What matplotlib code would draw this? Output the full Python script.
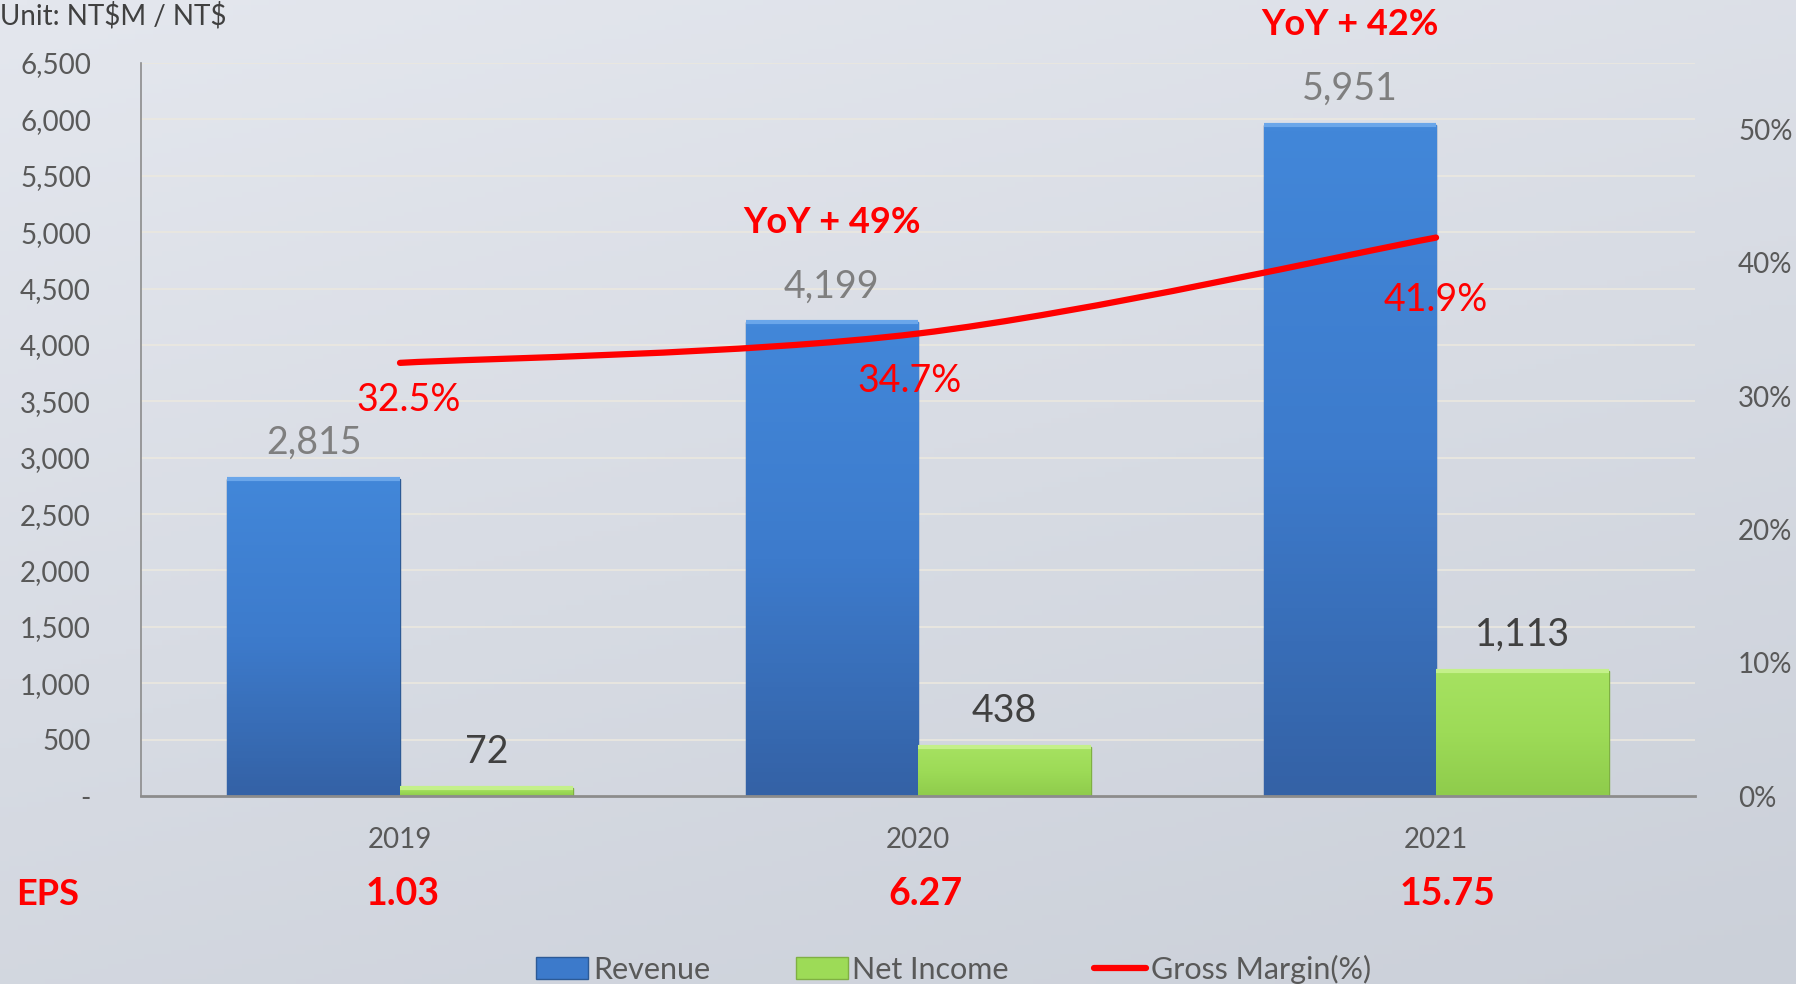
import numpy as np
import matplotlib.pyplot as plt
from matplotlib.path import Path
from matplotlib.patches import PathPatch, Patch
from matplotlib.lines import Line2D
from matplotlib.ticker import FuncFormatter
from matplotlib.colors import LinearSegmentedColormap
from matplotlib.transforms import blended_transform_factory

years = ['2019', '2020', '2021']
revenue = [2815, 4199, 5951]
net_income = [72, 438, 1113]
gross_margin = [0.325, 0.347, 0.419]
yoy_labels = ['', 'YoY + 49%', 'YoY + 42%']
eps = ['1.03', '6.27', '15.75']

plt.rcParams['font.family'] = ['Lato', 'DejaVu Sans']

fig = plt.figure(figsize=(17.96, 9.84), dpi=100)

# soft gradient background
bg = fig.add_axes([0, 0, 1, 1], zorder=-10)
yy, xx = np.mgrid[0:1:200j, 0:1:200j]
shade = 0.55 * yy + 0.25 * xx
bg.imshow(shade, cmap=LinearSegmentedColormap.from_list('bg', ['#e4e7ee', '#cbd0d9']),
          aspect='auto', extent=[0, 1, 0, 1], origin='upper')
bg.set_axis_off()

ax = fig.add_axes([0.0785, 0.191, 0.8653, 0.745])
ax.patch.set_alpha(0)
x = np.arange(len(years))
w = 0.333

blue = LinearSegmentedColormap.from_list('b', ['#3462a6', '#3d7bcc', '#4287d9'])
green = LinearSegmentedColormap.from_list('g', ['#8fcc4c', '#9ddb57', '#a6e261'])

rev_bars = ax.bar(x - w / 2, revenue, w, color='#3c7acb', edgecolor='#2c5a96', linewidth=1, zorder=3)
ni_bars = ax.bar(x + w / 2, net_income, w, color='#9ddb57', edgecolor='#7fb043', linewidth=1, zorder=3)

grad = np.linspace(0, 1, 100).reshape(-1, 1)
for bars, cmap, top in ((rev_bars, blue, '#6aa6ea'), (ni_bars, green, '#c4f08a')):
    for b in bars:
        x0, h, bw = b.get_x(), b.get_height(), b.get_width()
        im = ax.imshow(grad, cmap=cmap, aspect='auto', origin='lower',
                       extent=[x0, x0 + bw, 0, h], zorder=3.5)
        im.set_clip_path(b)
        # bevel highlight on top
        ax.plot([x0, x0 + bw], [h, h], color=top, lw=3, zorder=3.6, solid_capstyle='butt')

for b, v in zip(rev_bars, revenue):
    ax.annotate(f'{v:,}', (b.get_x() + b.get_width() / 2, v), xytext=(0, 26),
                textcoords='offset points', ha='center', va='center',
                fontsize=27, color='#7f7f7f', zorder=6)
for b, v in zip(ni_bars, net_income):
    ax.annotate(f'{v:,}', (b.get_x() + b.get_width() / 2, v), xytext=(0, 26),
                textcoords='offset points', ha='center', va='center',
                fontsize=27, color='#404040', zorder=6)
for b, v, t in zip(rev_bars, revenue, yoy_labels):
    if t:
        ax.annotate(t, (b.get_x() + b.get_width() / 2, v), xytext=(0, 72),
                    textcoords='offset points', ha='center', va='center',
                    fontsize=26, fontweight='bold', color='#ff0000', zorder=6)

ax.set_xlim(-0.5, 2.5)
ax.set_ylim(0, 6500)
ax.set_yticks(np.arange(0, 6501, 500))
ax.yaxis.set_major_formatter(FuncFormatter(lambda v, p: '-' if v == 0 else f'{v:,.0f}'))
ax.set_xticks(x)
ax.set_xticklabels(years)
ax.tick_params(axis='y', length=0, pad=36, labelsize=20, labelcolor='#595959')
ax.tick_params(axis='x', length=0, pad=22, labelsize=20, labelcolor='#595959')
ax.grid(axis='y', color='#ebe8df', linewidth=1.2, zorder=0)
ax.set_axisbelow(True)
for s in ('top', 'right'):
    ax.spines[s].set_visible(False)
ax.spines['left'].set_color('#8c8c8c')
ax.spines['left'].set_linewidth(1.2)
ax.spines['bottom'].set_color('#8c8c8c')
ax.spines['bottom'].set_linewidth(2)
ax.spines['bottom'].set_zorder(5)

# gross margin on secondary axis, smoothed like the spreadsheet line
ax2 = ax.twinx()
ax2.set_ylim(0, 0.55)
ax2.set_yticks(np.arange(0, 0.51, 0.1))
ax2.yaxis.set_major_formatter(FuncFormatter(lambda v, p: f'{v * 100:.0f}%'))
ax2.tick_params(axis='y', length=0, pad=31, labelsize=20, labelcolor='#595959')
for s in ax2.spines.values():
    s.set_visible(False)

pts = np.column_stack([x, gross_margin]).astype(float)
verts = [pts[0]]
codes = [Path.MOVETO]
for i in range(len(pts) - 1):
    p_prev = pts[i - 1] if i > 0 else pts[i]
    p_next = pts[i + 2] if i + 2 < len(pts) else pts[i + 1]
    c1 = pts[i] + (pts[i + 1] - p_prev) / 6
    c2 = pts[i + 1] - (p_next - pts[i]) / 6
    verts += [c1, c2, pts[i + 1]]
    codes += [Path.CURVE4] * 3
ax2.add_patch(PathPatch(Path(verts, codes), fill=False, edgecolor='#ff0000',
                        lw=4.5, capstyle='round', zorder=5))

gm_offsets = [(6, -27), (-6, -34), (0, -45)]
for xi, g, off in zip(x, gross_margin, gm_offsets):
    ax2.annotate(f'{g * 100:.1f}%', (xi, g), xytext=off, textcoords='offset points',
                 ha='center', va='center', fontsize=27, color='#ff0000', zorder=6)

# EPS row
fig.text(0.009, 0.091, 'EPS', fontsize=26, fontweight='bold', color='#ff0000', va='center')
eps_tr = blended_transform_factory(ax.transData, fig.transFigure)
for xi, e in zip(x, eps):
    ax.annotate(e, (xi, 0.091), xycoords=eps_tr, xytext=(2 + 3 * xi, 0),
                textcoords='offset points', fontsize=27, fontweight='bold',
                color='#ff0000', ha='center', va='center')

fig.text(0.0, 0.998, r'Unit: NT\$M / NT\$', fontsize=20, color='#404040', va='top')

handles = [Patch(facecolor='#3c7acb', edgecolor='#2c5a96'),
           Patch(facecolor='#9ddb57', edgecolor='#7fb043'),
           Line2D([], [], color='#ff0000', lw=4.5, solid_capstyle='round')]
fig.legend(handles, ['Revenue', 'Net Income', 'Gross Margin(%)'], loc='center',
           bbox_to_anchor=(0.531, 0.015), ncol=3, frameon=False, fontsize=22,
           labelcolor='#595959', handlelength=1.7, handleheight=0.7,
           handletextpad=0.15, columnspacing=2.8)

plt.savefig('out.png', dpi=100)
